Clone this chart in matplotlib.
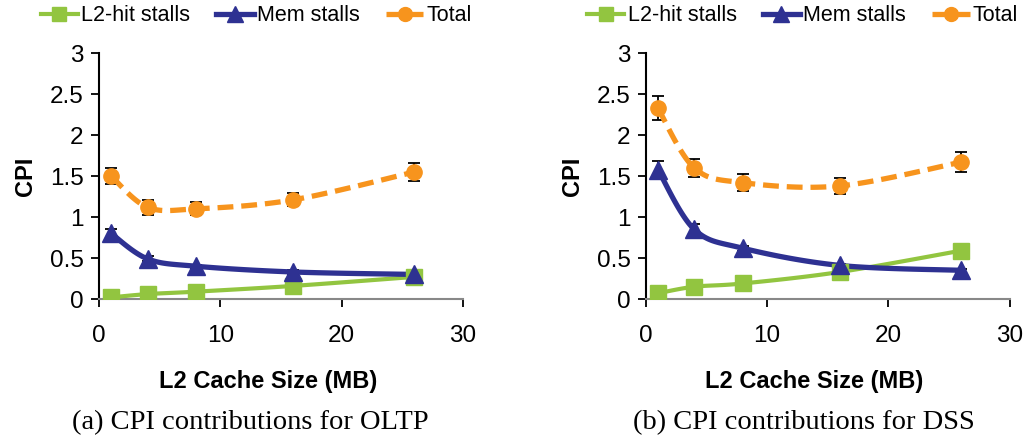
import numpy as np
import matplotlib
matplotlib.use("Agg")
import matplotlib.pyplot as plt

plt.rcParams['font.family'] = ['Liberation Sans', 'DejaVu Sans']

# cache sizes (MB)
sizes = [1, 4, 8, 16, 26]

# (a) OLTP
oltp_l2 = [0.02, 0.06, 0.09, 0.16, 0.27]
oltp_mem = [0.80, 0.49, 0.40, 0.33, 0.30]
oltp_mem_err = [0.05, 0.03, 0.02, 0.02, 0.02]
oltp_total = [1.50, 1.12, 1.10, 1.21, 1.55]
oltp_total_err = [0.10, 0.09, 0.08, 0.08, 0.11]

# (b) DSS
dss_l2 = [0.07, 0.15, 0.19, 0.33, 0.59]
dss_mem = [1.58, 0.85, 0.62, 0.41, 0.35]
dss_mem_err = [0.10, 0.06, 0.03, 0.02, 0.02]
dss_total = [2.33, 1.60, 1.42, 1.38, 1.67]
dss_total_err = [0.15, 0.11, 0.10, 0.10, 0.12]

labels = ['L2-hit stalls', 'Mem stalls', 'Total']
captions = ['(a) CPI contributions for OLTP', '(b) CPI contributions for DSS']

GREEN = '#92C540'
BLUE = '#2E3192'
ORANGE = '#F7941D'


def smooth(x, y, n=30):
    # excel-like smoothed line: bezier through points
    x = np.asarray(x, float)
    y = np.asarray(y, float)
    px, py = [], []
    for i in range(len(x) - 1):
        x0, y0 = (x[i - 1], y[i - 1]) if i > 0 else (x[i], y[i])
        x3, y3 = (x[i + 2], y[i + 2]) if i + 2 < len(x) else (x[i + 1], y[i + 1])
        c1x = x[i] + (x[i + 1] - x0) / 6
        c1y = y[i] + (y[i + 1] - y0) / 6
        c2x = x[i + 1] - (x3 - x[i]) / 6
        c2y = y[i + 1] - (y3 - y[i]) / 6
        t = np.linspace(0, 1, n)
        bx = (1 - t) ** 3 * x[i] + 3 * (1 - t) ** 2 * t * c1x + 3 * (1 - t) * t ** 2 * c2x + t ** 3 * x[i + 1]
        by = (1 - t) ** 3 * y[i] + 3 * (1 - t) ** 2 * t * c1y + 3 * (1 - t) * t ** 2 * c2y + t ** 3 * y[i + 1]
        px.extend(bx)
        py.extend(by)
    return px, py


fig = plt.figure(figsize=(10.25, 4.43), dpi=100)
axes = [fig.add_axes([0.0966, 0.325, 0.355, 0.555]),
        fig.add_axes([0.630, 0.325, 0.355, 0.555])]

panels = [(oltp_l2, oltp_mem, oltp_mem_err, oltp_total, oltp_total_err),
          (dss_l2, dss_mem, dss_mem_err, dss_total, dss_total_err)]

DASH = (0, (3, 1.5))
legend_x = [0.250, 0.783]
caption_x = [0.244, 0.784]

for i, (ax, (l2, mem, mem_err, tot, tot_err), cap) in enumerate(zip(axes, panels, captions)):
    ax.errorbar(sizes, mem, yerr=mem_err, fmt='none', ecolor='black', elinewidth=1.3, capsize=4, capthick=1.3, zorder=2)
    ax.errorbar(sizes, tot, yerr=tot_err, fmt='none', ecolor='black', elinewidth=1.3, capsize=4, capthick=1.3, zorder=2)

    sx, sy = smooth(sizes, l2)
    ax.plot(sx, sy, color=GREEN, lw=3, zorder=3)
    ax.plot(sizes, l2, 's', color=GREEN, ms=11, zorder=4)

    sx, sy = smooth(sizes, mem)
    ax.plot(sx, sy, color=BLUE, lw=3.8, zorder=3, solid_capstyle='butt')
    ax.plot(sizes, mem, '^', color=BLUE, ms=12.5, zorder=4)

    sx, sy = smooth(sizes, tot)
    ax.plot(sx, sy, color=ORANGE, lw=3.8, ls=DASH, zorder=3)
    ax.plot(sizes, tot, 'o', color=ORANGE, ms=11, zorder=4)

    h1, = ax.plot([], [], color=GREEN, lw=3, marker='s', ms=10)
    h2, = ax.plot([], [], color=BLUE, lw=3.8, marker='^', ms=11)
    h3, = ax.plot([], [], color=ORANGE, lw=3.8, ls=DASH, marker='o', ms=10)

    ax.set_xlim(0, 30)
    ax.set_ylim(0, 3)
    ax.set_xticks([0, 10, 20, 30])
    ax.set_yticks([0, 0.5, 1, 1.5, 2, 2.5, 3])
    ax.set_yticklabels(['0', '0.5', '1', '1.5', '2', '2.5', '3'])
    ax.tick_params(labelsize=17.5, length=6, width=1.3, direction='out', pad=5)
    ax.tick_params(axis='x', pad=13)
    ax.spines['top'].set_visible(False)
    ax.spines['right'].set_visible(False)
    ax.spines['left'].set_linewidth(1.5)
    ax.spines['bottom'].set_linewidth(1.5)
    ax.spines['bottom'].set_color('#888888')
    ax.set_ylabel('CPI', fontsize=17, fontweight='bold', labelpad=9)
    ax.set_xlabel('L2 Cache Size (MB)', fontsize=17, fontweight='bold', labelpad=16, x=0.464)

    fig.legend([h1, h2, h3], labels, loc='center', bbox_to_anchor=(legend_x[i], 0.964),
               ncol=3, frameon=False, fontsize=15.5, handlelength=1.75,
               handletextpad=0.15, columnspacing=1.2, borderaxespad=0)
    fig.text(caption_x[i], 0.047, cap, ha='center', va='center',
             fontsize=20.5, family=['Liberation Serif', 'DejaVu Serif'])

fig.savefig('out.png', dpi=100)
